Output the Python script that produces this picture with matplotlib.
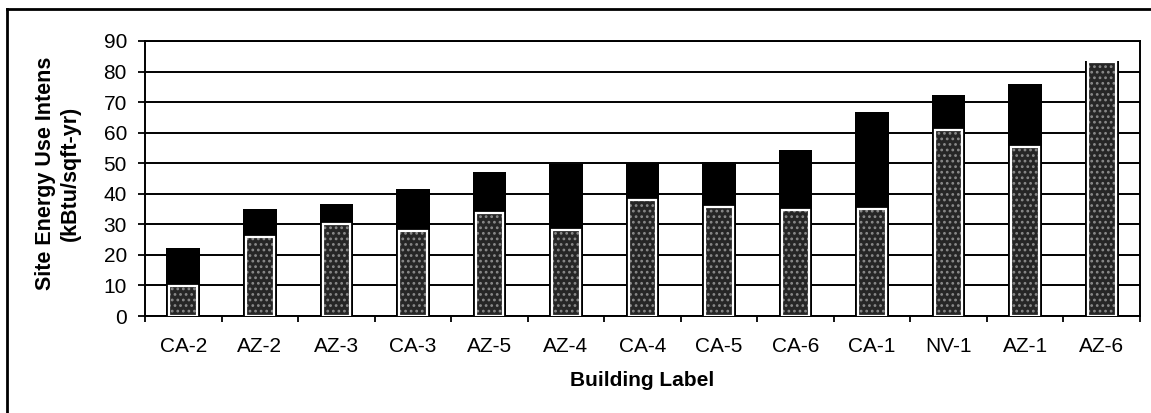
import numpy as np
import matplotlib
matplotlib.use('Agg')
import matplotlib.pyplot as plt
from matplotlib.lines import Line2D

# building labels and site EUI (kBtu/sqft-yr)
buildings = ['CA-2', 'AZ-2', 'AZ-3', 'CA-3', 'AZ-5', 'AZ-4', 'CA-4',
             'CA-5', 'CA-6', 'CA-1', 'NV-1', 'AZ-1', 'AZ-6']
total_eui = [22.2, 35.0, 36.7, 41.6, 47.0, 49.8, 50.0,
             50.5, 54.4, 66.8, 72.4, 75.8, 83.3]
inner_eui = [9.8, 25.9, 30.1, 27.8, 33.6, 28.0, 38.0,
             35.8, 34.7, 34.9, 60.9, 55.3, 83.0]

plt.rcParams['font.family'] = ['Liberation Sans', 'DejaVu Sans']
plt.rcParams['hatch.linewidth'] = 1.2

fig = plt.figure(figsize=(11.51, 4.13), dpi=100)
ax = fig.add_axes([145/1151, 1-316/413, (1140-145)/1151, (316-41)/413])

x = np.arange(len(buildings))

# black outer bars
ax.bar(x, total_eui, width=0.44, color='black', zorder=3)
# stippled inner bars with white outline
ax.bar(x, inner_eui, width=0.36, color='#262626', hatch='...',
       edgecolor='#8a8a8a', linewidth=0, zorder=4)
ax.bar(x, inner_eui, width=0.36, fill=False, edgecolor='white',
       linewidth=1.6, zorder=5)

ax.set_xlim(-0.5, len(buildings)-0.5)
ax.set_ylim(0, 90)
ax.set_yticks(np.arange(0, 91, 10))
ax.yaxis.grid(True, color='black', linewidth=1.4, zorder=0)
ax.set_axisbelow(True)

ax.set_xticks(x)
ax.set_xticklabels(buildings)
ax.set_xticks(np.arange(-0.5, len(buildings), 1), minor=True)
ax.tick_params(axis='x', which='major', length=0, pad=15, labelsize=15)
ax.tick_params(axis='x', which='minor', length=4.5, width=1.3, direction='out')
ax.tick_params(axis='y', length=5, width=1.3, pad=8, labelsize=15)

for s in ax.spines.values():
    s.set_linewidth(1.4)

fig.text(0.050, 0.58, 'Site Energy Use Intens\n(kBtu/sqft-yr)',
         rotation=90, ha='center', va='center', multialignment='center',
         fontsize=15.5, fontweight='bold', linespacing=1.25)
fig.text((145+1140)/2/1151, 1-381/413, 'Building Label',
         ha='center', va='center', fontsize=15, fontweight='bold')

# outer frame, left and top edges only
fig.add_artist(Line2D([7/1151, 7/1151], [0, 1-9/413], color='black',
                      linewidth=2, transform=fig.transFigure))
fig.add_artist(Line2D([7/1151, 1], [1-9/413, 1-9/413], color='black',
                      linewidth=2, transform=fig.transFigure))

fig.savefig('out.png', dpi=100)
